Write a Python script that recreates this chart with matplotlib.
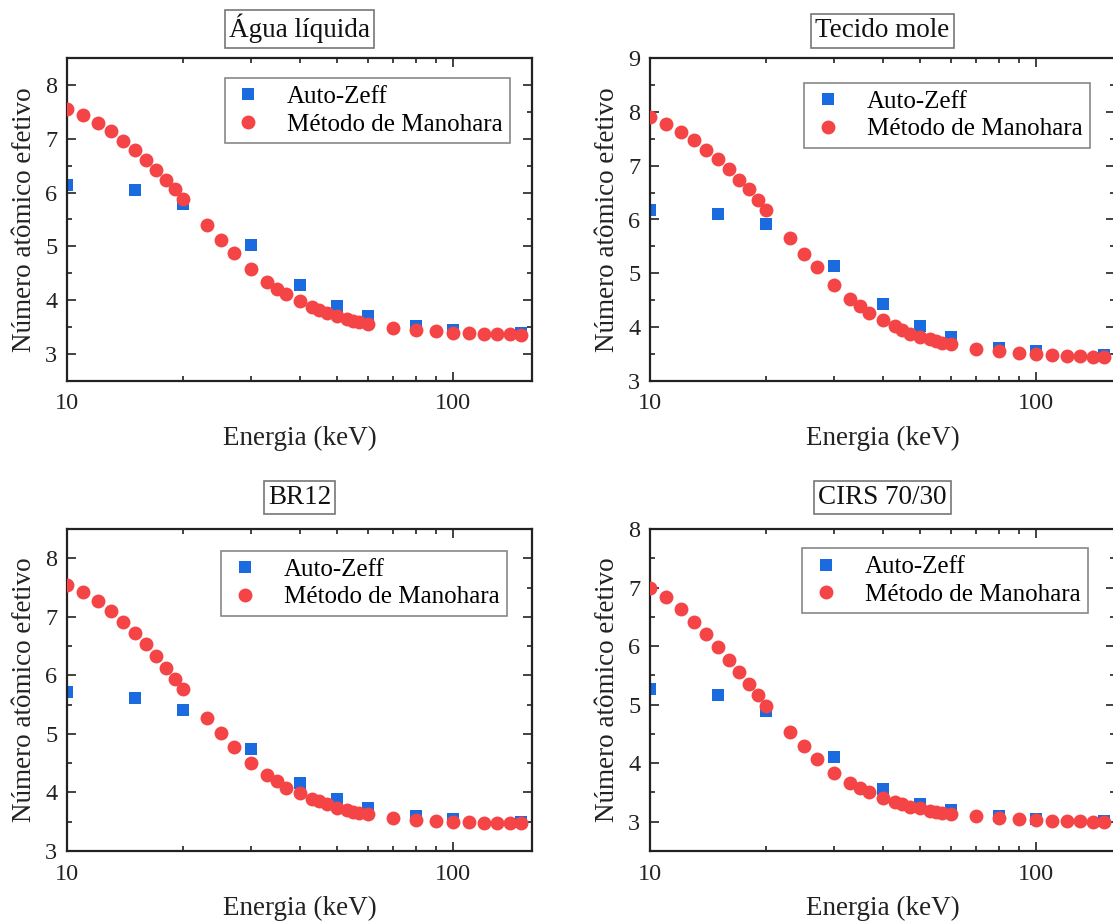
import matplotlib
matplotlib.use("Agg")
import matplotlib.pyplot as plt
from matplotlib.ticker import MultipleLocator, NullFormatter, FixedLocator

plt.rcParams['font.family'] = ['Liberation Serif', 'DejaVu Serif']

# Energy grids (keV)
energia_manohara = [10, 11, 12, 13, 14, 15, 16, 17, 18, 19, 20, 23, 25, 27, 30,
                    33, 35, 37, 40, 43, 45, 47, 50, 53, 55, 57, 60,
                    70, 80, 90, 100, 110, 120, 130, 140, 150]
energia_autozeff = [10, 15, 20, 30, 40, 50, 60, 80, 100, 150]

# Água líquida
agua_manohara = [7.56, 7.44, 7.29, 7.14, 6.96, 6.79, 6.60, 6.42, 6.24, 6.06, 5.89,
                 5.40, 5.12, 4.88, 4.58, 4.34, 4.21, 4.11, 3.98, 3.87, 3.81, 3.76,
                 3.71, 3.65, 3.62, 3.59, 3.56, 3.48, 3.45, 3.42, 3.40, 3.39, 3.37,
                 3.37, 3.37, 3.36]
agua_autozeff = [6.14, 6.04, 5.78, 5.02, 4.29, 3.90, 3.70, 3.53, 3.45, 3.39]

# Tecido mole
tecido_manohara = [7.90, 7.77, 7.63, 7.48, 7.30, 7.12, 6.93, 6.74, 6.56, 6.37, 6.18,
                   5.66, 5.36, 5.11, 4.78, 4.53, 4.40, 4.27, 4.13, 4.02, 3.94, 3.88,
                   3.82, 3.78, 3.75, 3.71, 3.68, 3.60, 3.55, 3.52, 3.50, 3.49, 3.47,
                   3.46, 3.45, 3.45]
tecido_autozeff = [6.18, 6.11, 5.91, 5.14, 4.43, 4.02, 3.81, 3.62, 3.55, 3.48]

# BR12
br12_manohara = [7.54, 7.42, 7.27, 7.10, 6.91, 6.72, 6.53, 6.33, 6.13, 5.94, 5.76,
                 5.28, 5.01, 4.78, 4.51, 4.30, 4.19, 4.08, 3.99, 3.88, 3.85, 3.80,
                 3.74, 3.70, 3.67, 3.65, 3.63, 3.57, 3.53, 3.52, 3.50, 3.49, 3.48,
                 3.48, 3.47, 3.47]
br12_autozeff = [5.71, 5.62, 5.41, 4.74, 4.17, 3.88, 3.73, 3.59, 3.54, 3.50]

# CIRS 70/30
cirs_manohara = [6.99, 6.83, 6.63, 6.42, 6.21, 5.98, 5.77, 5.55, 5.35, 5.16, 4.98,
                 4.53, 4.29, 4.07, 3.84, 3.67, 3.57, 3.50, 3.40, 3.34, 3.30, 3.26,
                 3.23, 3.19, 3.17, 3.15, 3.13, 3.09, 3.06, 3.04, 3.03, 3.02, 3.01,
                 3.01, 3.00, 3.00]
cirs_autozeff = [5.27, 5.17, 4.89, 4.10, 3.56, 3.31, 3.20, 3.10, 3.04, 3.02]

titulos = ["Água líquida", "Tecido mole", "BR12", "CIRS 70/30"]
limites_y = [(2.5, 8.5), (3, 9), (3, 8.5), (2.5, 8)]

AZUL = '#1a6be0'
VERMELHO = '#f44446'

W, H = 1113, 923
fig = plt.figure(figsize=(W / 100, H / 100), dpi=100)

# axes boxes in pixels: left, top, right, bottom
caixas = [(67, 58, 532, 381), (650, 58, 1115, 381),
          (67, 529, 532, 851), (650, 529, 1115, 851)]

paineis = [(agua_autozeff, agua_manohara), (tecido_autozeff, tecido_manohara),
           (br12_autozeff, br12_manohara), (cirs_autozeff, cirs_manohara)]

legend_anchor = [(0.953, 0.938), (0.946, 0.923), (0.946, 0.932), (0.942, 0.94)]
titulo_y = [1.045, 1.045, 1.06, 1.06]

for i, (auto, mano) in enumerate(paineis):
    l, t, r, b = caixas[i]
    ax = fig.add_axes([l / W, 1 - b / H, (r - l) / W, (b - t) / H])
    ax.set_xscale('log')
    ax.plot(energia_autozeff, auto, 's', color=AZUL, ms=8, mew=0,
            label='Auto-Zeff', zorder=2)
    ax.plot(energia_manohara, mano, 'o', color=VERMELHO, ms=10, mew=0,
            label='Método de Manohara', zorder=3)

    ax.set_xlim(10, 160)
    ax.set_ylim(*limites_y[i])
    ax.xaxis.set_major_locator(FixedLocator([10, 100]))
    ax.set_xticklabels(['10', '100'])
    ax.xaxis.set_minor_locator(FixedLocator([20, 30, 40, 50, 60, 70, 80, 90]))
    ax.xaxis.set_minor_formatter(NullFormatter())
    ax.yaxis.set_major_locator(MultipleLocator(1))
    ax.yaxis.set_minor_locator(MultipleLocator(0.5))

    ax.tick_params(which='both', direction='in', top=True, right=True,
                   labelsize=17.5, width=1.2, colors='#222222')
    ax.tick_params(which='major', length=6.5)
    ax.tick_params(which='minor', length=3.5)
    ax.tick_params(axis='x', which='major', pad=9)
    ax.tick_params(axis='y', which='major', pad=7)
    for sp in ax.spines.values():
        sp.set_linewidth(1.6)
        sp.set_color('#222222')

    ax.set_xlabel('Energia (keV)', fontsize=19.5, labelpad=8, color='#222222')
    ax.set_ylabel('Número atômico efetivo', fontsize=19.5, labelpad=6,
                  color='#222222')

    ax.text(0.5, titulo_y[i], titulos[i], transform=ax.transAxes, ha='center',
            va='bottom', fontsize=19.5, color='#111111',
            bbox=dict(boxstyle='square,pad=0.15', facecolor='white',
                      edgecolor='#777777', linewidth=1.2))

    leg = ax.legend(loc='upper right', bbox_to_anchor=legend_anchor[i],
                    fontsize=18, fancybox=False, framealpha=1,
                    edgecolor='#888888', handlelength=1.3, handletextpad=0.9,
                    labelspacing=0.2, borderpad=0.3, borderaxespad=0)
    leg.get_frame().set_linewidth(1.2)

fig.savefig('out.png', dpi=100)
